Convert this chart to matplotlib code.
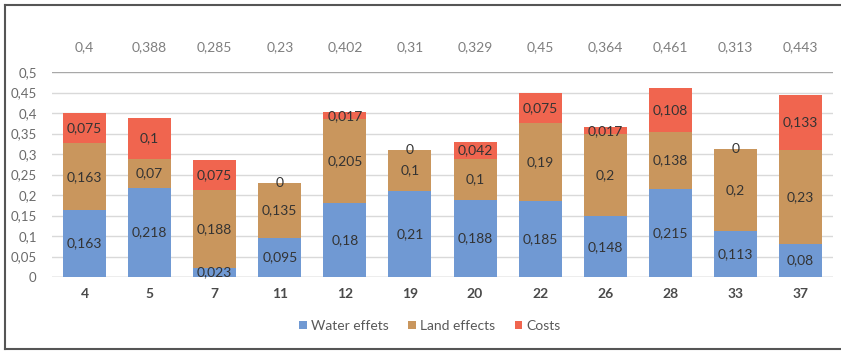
import matplotlib
matplotlib.use("Agg")
import matplotlib.pyplot as plt
from matplotlib.patches import Patch
from matplotlib.lines import Line2D

categories = ["4", "5", "7", "11", "12", "19", "20", "22", "26", "28", "33", "37"]
water = [0.163, 0.218, 0.023, 0.095, 0.18, 0.21, 0.188, 0.185, 0.148, 0.215, 0.113, 0.08]
land = [0.163, 0.07, 0.188, 0.135, 0.205, 0.1, 0.1, 0.19, 0.2, 0.138, 0.2, 0.23]
costs = [0.075, 0.1, 0.075, 0.0, 0.017, 0.0, 0.042, 0.075, 0.017, 0.108, 0.0, 0.133]
totals = [0.4, 0.388, 0.285, 0.23, 0.402, 0.31, 0.329, 0.45, 0.364, 0.461, 0.313, 0.443]
series_names = ["Water effets", "Land effects", "Costs"]
y_ticks = [0, 0.05, 0.1, 0.15, 0.2, 0.25, 0.3, 0.35, 0.4, 0.45, 0.5]

colors = ["#7099D3", "#C9965D", "#F0654F"]
plt.rcParams["font.family"] = ["Lato", "DejaVu Sans"]


def fmt(v):
    s = f"{v:.3f}".rstrip("0").rstrip(".")
    return s.replace(".", ",")


fig = plt.figure(figsize=(8.41, 3.51), dpi=100)
W, H = 841, 351
ax = fig.add_axes([52 / W, 1 - 277 / H, (833 - 52) / W, (277 - 72) / H])

x = list(range(len(categories)))
width = 0.66
bottoms = [0.0] * len(x)
for vals, col in zip([water, land, costs], colors):
    ax.bar(x, vals, width, bottom=bottoms, color=col, zorder=3)
    for i, v in enumerate(vals):
        yc = bottoms[i] + v / 2
        ax.text(i, yc, fmt(v), ha="center", va="center", fontsize=10,
                color="#333333", zorder=4)
    bottoms = [b + v for b, v in zip(bottoms, vals)]

ax.set_xlim(-0.5, len(x) - 0.5)
ax.set_ylim(0, 0.5)
ax.set_yticks(y_ticks)
ax.set_yticklabels([fmt(t) if t else "0" for t in y_ticks], fontsize=9.5, color="#6A6A6A")
ax.set_xticks(x)
ax.set_xticklabels(categories, fontsize=10, color="#4A4A4A", fontweight="bold")
ax.tick_params(length=0, pad=8)
ax.tick_params(axis="y", pad=11)
for s in ax.spines.values():
    s.set_visible(False)
for t in y_ticks:
    ax.axhline(t, color="#A8A8A8" if t in (0, 0.5) else "#D9D9D9", lw=1.0, zorder=1)

# totals row above the plot
for i, t in enumerate(totals):
    ax.text(i, 0.56, fmt(t), ha="center", va="center", fontsize=10,
            color="#7F7F7F", clip_on=False)

handles = [Patch(facecolor=c, edgecolor="none") for c in colors]
fig.legend(handles, series_names, loc="center", bbox_to_anchor=(430 / W, 1 - 326 / H),
           ncol=3, frameon=False, fontsize=10, handlelength=0.55, handleheight=0.55,
           handletextpad=0.3, columnspacing=1.4, labelcolor="#595959")

# outer frame
frame = dict(color="#555555", lw=1.5, transform=fig.transFigure)
fig.add_artist(Line2D([5 / W, 5 / W], [1 - 5 / H, 1 - 349 / H], **frame))
fig.add_artist(Line2D([5 / W, 1], [1 - 5 / H, 1 - 5 / H], **frame))
fig.add_artist(Line2D([5 / W, 1], [1 - 349 / H, 1 - 349 / H], **frame))

fig.savefig("out.png", dpi=100)
